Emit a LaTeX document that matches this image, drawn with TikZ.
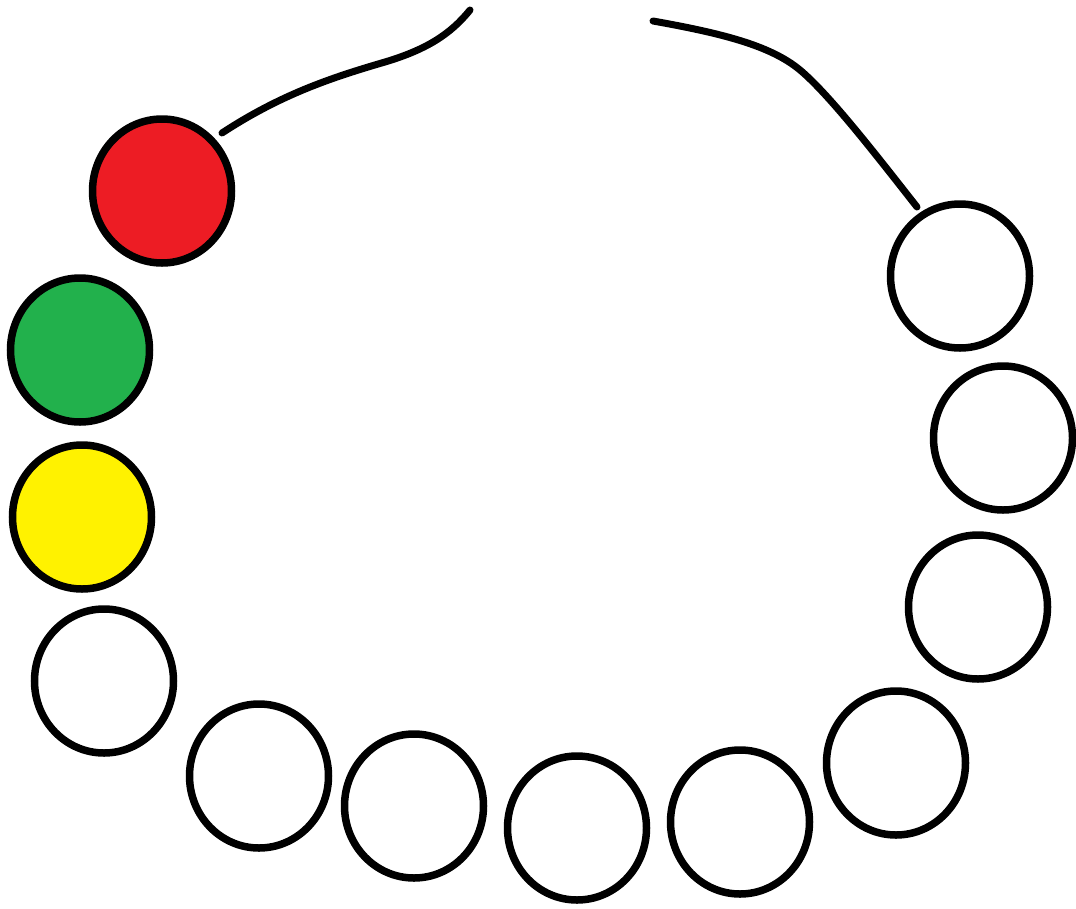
\documentclass[tikz,border=0pt]{standalone}
\usetikzlibrary{shapes.geometric}
\definecolor{bred}{RGB}{237,28,36}
\definecolor{bgreen}{RGB}{34,177,76}
\definecolor{byellow}{RGB}{255,242,0}
\begin{document}
\begin{tikzpicture}[x=1pt,y=-1pt,
  bead/.style={ellipse,draw=black,line width=7.5pt,minimum width=139pt,minimum height=144pt,inner sep=0pt,fill=white},
  string/.style={line width=7pt,line cap=round,line join=round}]
\useasboundingbox (0,0) rectangle (1076,908);
\node[bead,fill=bred] (red) at (162,191) {};
\node[bead,fill=bgreen] (green) at (80,350) {};
\node[bead,fill=byellow] (yellow) at (82,517) {};
\node[bead] (w1) at (104,681) {};
\node[bead] (w2) at (259,776) {};
\node[bead] (w3) at (414,806) {};
\node[bead] (w4) at (577,828) {};
\node[bead] (w5) at (740,822) {};
\node[bead] (w6) at (896,763) {};
\node[bead] (w7) at (978,607) {};
\node[bead] (w8) at (1003,438) {};
\node[bead] (w9) at (960,276) {};
\coordinate (lstart) at (222,133);
\coordinate (lend) at (470,10);
\coordinate (rend) at (653,21);
\coordinate (rstart) at (917,207);
\draw[string] (lstart) .. controls (280,95) and (330,78) .. (385,62) .. controls (425,50) and (450,35) .. (lend);
\draw[string] (rend) .. controls (720,33) and (770,45) .. (800,70) .. controls (830,95) and (880,160) .. (rstart);
\end{tikzpicture}
\end{document}
